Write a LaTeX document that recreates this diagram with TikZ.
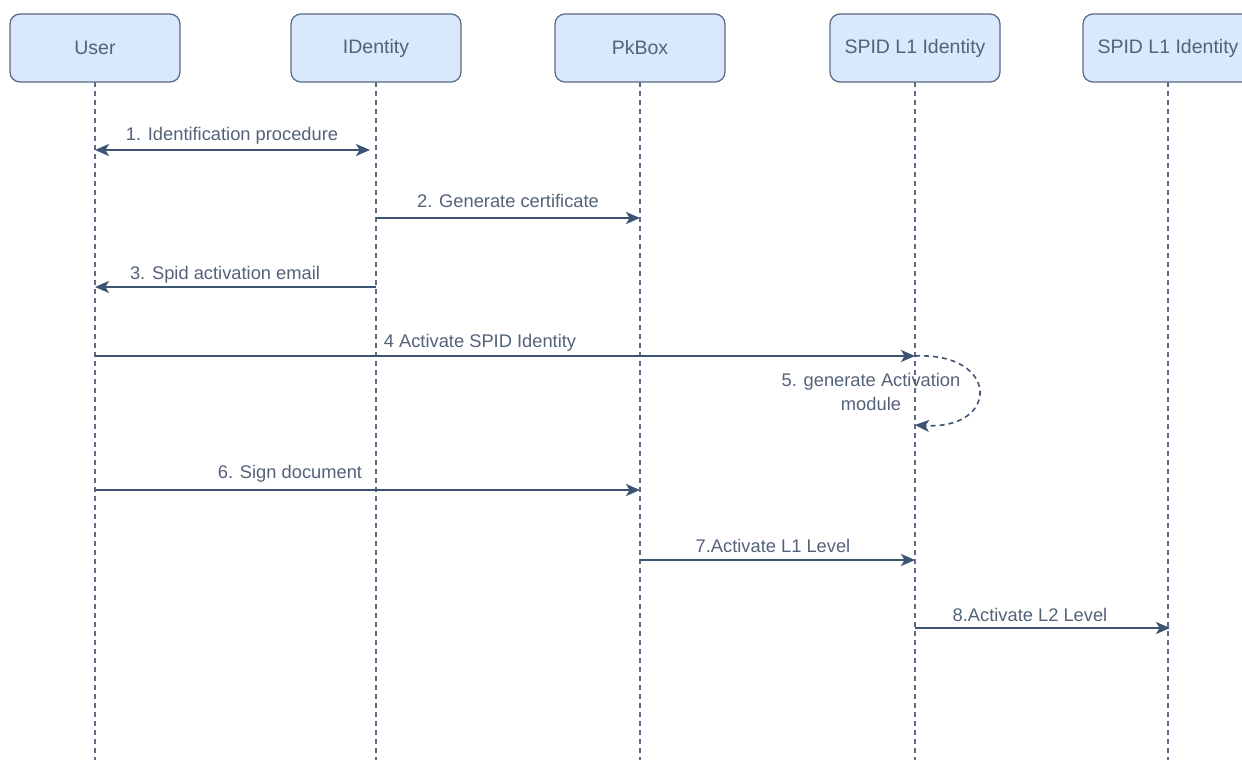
\documentclass[tikz,border=0pt]{standalone}
\usepackage{fontspec}
\setmainfont{Liberation Sans}
\usetikzlibrary{arrows.meta}
\definecolor{boxfill}{HTML}{DAE8FC}
\definecolor{boxline}{HTML}{5A6C86}
\definecolor{txt}{HTML}{536279}
\definecolor{arr}{HTML}{3E5474}
\tikzset{
  actor/.style={draw=boxline, fill=boxfill, line width=1.3pt, rounded corners=10pt,
    minimum width=170pt, minimum height=68pt, inner sep=0pt, text=txt,
    font=\fontsize{19.5pt}{22pt}\selectfont},
  lifeline/.style={draw=boxline, line width=1.3pt, dash pattern=on 4.5pt off 4.5pt},
  tip/.style={Stealth[length=14pt,width=12pt,inset=3.5pt]},
  msg/.style={draw=arr, line width=1.6pt, -{Stealth[length=14pt,width=12pt,inset=3.5pt]}},
  lbl/.style={text=txt, font=\fontsize{18.3pt}{24pt}\selectfont, inner sep=0pt, align=center},
}
\begin{document}
\begin{tikzpicture}[x=1pt,y=-1pt]
\useasboundingbox (0,0) rectangle (1242,760);
\begin{scope}
\clip (0,0) rectangle (1242,760);
% lifelines
\foreach \n/\x in {u/95,i/376,p/640,s/915,t/1168}{
  \coordinate (\n top) at (\x,82);
  \coordinate (\n bot) at (\x,760);
}
\draw[lifeline] (utop) -- (ubot);
\draw[lifeline] (itop) -- (ibot);
\draw[lifeline] (ptop) -- (pbot);
\draw[lifeline] (stop) -- (sbot);
\draw[lifeline] (ttop) -- (tbot);
% actors
\node[actor] (user) at (95,48) {User};
\node[actor] (ident) at (376,48) {IDentity};
\node[actor] (pkbox) at (640,48) {PkBox};
\node[actor] (spid1) at (915,48) {SPID L1 Identity};
\node[actor] (spid2) at (1168,48) {SPID L1 Identity};
\end{scope}
% message anchor points
\coordinate (u1) at (95,150);  \coordinate (i1) at (370,150);
\coordinate (i2) at (376,218); \coordinate (p2) at (640,218);
\coordinate (i3) at (376,287); \coordinate (u3) at (95,287);
\coordinate (u4) at (95,356);  \coordinate (s4) at (915,356);
\coordinate (s5) at (915,425);
\coordinate (u6) at (95,490);  \coordinate (p6) at (640,490);
\coordinate (p7) at (640,560); \coordinate (s7) at (915,560);
\coordinate (s8) at (915,628); \coordinate (t8) at (1170,628);
% messages
\draw[msg, {Stealth[length=14pt,width=12pt,inset=3.5pt]}-{Stealth[length=14pt,width=12pt,inset=3.5pt]}] (u1) -- (i1);
\node[lbl] (l1) at (232,136) {1. Identification procedure};
\draw[msg] (i2) -- (p2);
\node[lbl] (l2) at (508,201) {2. Generate certificate};
\draw[msg] (i3) -- (u3);
\node[lbl] (l3) at (225,275) {3. Spid activation email};
\draw[msg] (u4) -- (s4);
\node[lbl] (l4) at (480,343) {4 Activate SPID Identity};
\draw[msg, dash pattern=on 5pt off 4pt] (s4) .. controls (1000,352) and (1000,430) .. (s5);
\node[lbl] (l5) at (871,392) {5. generate Activation\\module};
\draw[msg] (u6) -- (p6);
\node[lbl] (l6) at (290,474) {6. Sign document};
\draw[msg] (p7) -- (s7);
\node[lbl] (l7) at (773,546) {7.Activate L1 Level};
\draw[msg] (s8) -- (t8);
\node[lbl] (l8) at (1030,615) {8.Activate L2 Level};
\end{tikzpicture}
\end{document}
